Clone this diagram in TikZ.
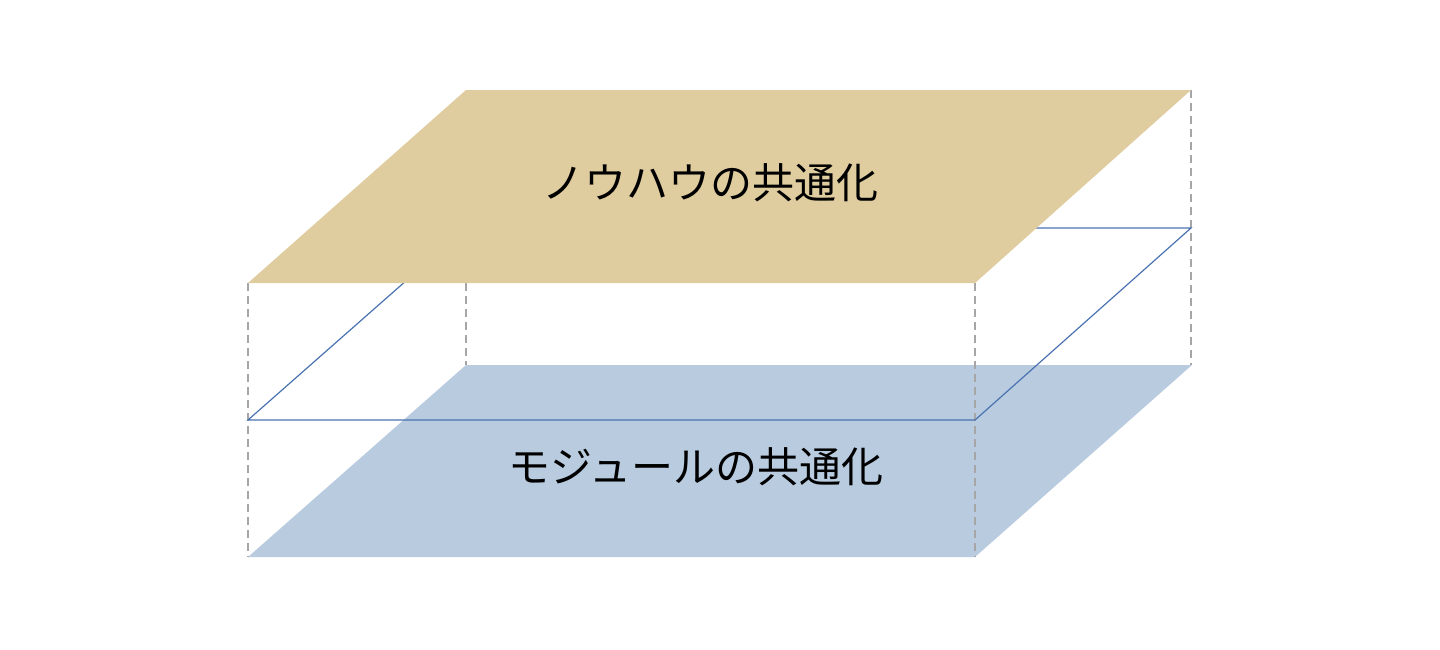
\documentclass[tikz,border=0pt]{standalone}
\usepackage{fontspec}
\newfontfamily\cjk{Noto Sans CJK JP}
\definecolor{tanfill}{HTML}{DFCC9F}
\definecolor{bluefill}{HTML}{B8CBDF}
\definecolor{lineblue}{HTML}{4A72B0}
\definecolor{dashgray}{HTML}{A6A6A6}
\tikzset{
  guide/.style={draw=dashgray, line width=2pt, dash pattern=on 8pt off 5pt},
  midplane/.style={draw=lineblue, line width=1.2pt},
  lbl/.style={font=\cjk\fontsize{42}{48}\selectfont, text=black, inner sep=0pt}
}
\begin{document}
\begin{tikzpicture}[x=1pt,y=-1pt]
\useasboundingbox (0,0) rectangle (1440,649);
% bottom plane
\fill[bluefill] (248,557) -- (975,557) -- (1192,365) -- (466,365) -- cycle;
% guides
\coordinate (g1a) at (248,283); \coordinate (g1b) at (248,557);
\coordinate (g2a) at (975,283); \coordinate (g2b) at (975,557);
\coordinate (g3a) at (466,283); \coordinate (g3b) at (466,365);
\coordinate (g4a) at (1191,90); \coordinate (g4b) at (1191,365);
\draw[guide] (g1a) -- (g1b);
\draw[guide] (g2a) -- (g2b);
\draw[guide] (g3a) -- (g3b);
\draw[guide] (g4a) -- (g4b);
% middle plane outline
\draw[midplane] (466,228) -- (1191,228) -- (975,420) -- (248,420) -- cycle;
% top plane
\fill[tanfill] (248,283) -- (975,283) -- (1191,90) -- (466,90) -- cycle;
% labels
\node[lbl] (top) at (710,183) {ノウハウの共通化};
\node[lbl] (bot) at (696,467) {モジュールの共通化};
\end{tikzpicture}
\end{document}
